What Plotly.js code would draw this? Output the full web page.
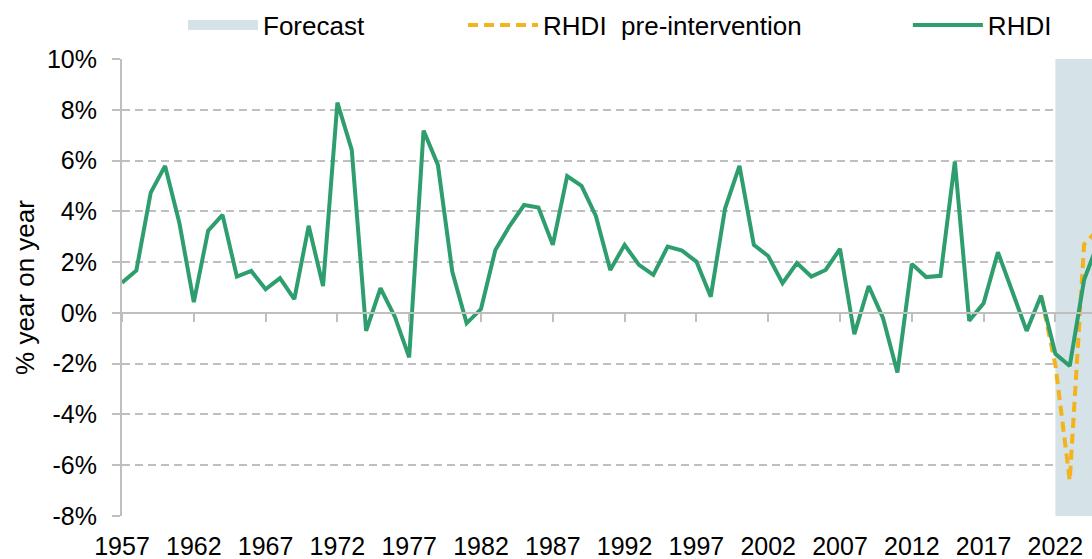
<!DOCTYPE html>
<html>
<head>
<meta charset="utf-8">
<script src="https://cdn.plot.ly/plotly-3.0.1.min.js"></script>
<style>html,body{margin:0;padding:0;background:#fff;}#chart{width:1092px;height:559px;}</style>
</head>
<body>
<div id="chart"></div>
<script>
const years = [1957,1958,1959,1960,1961,1962,1963,1964,1965,1966,
  1967,1968,1969,1970,1971,1972,1973,1974,1975,1976,
  1977,1978,1979,1980,1981,1982,1983,1984,1985,1986,
  1987,1988,1989,1990,1991,1992,1993,1994,1995,1996,
  1997,1998,1999,2000,2001,2002,2003,2004,2005,2006,
  2007,2008,2009,2010,2011,2012,2013,2014,2015,2016,
  2017,2018,2019,2020,2021,2022,2023,2024,2025];
const rhdi = [1.19,1.67,4.74,5.79,3.53,0.42,3.24,3.86,1.43,1.65,
  0.93,1.37,0.54,3.43,1.06,8.28,6.42,-0.71,0.97,-0.15,
  -1.75,7.18,5.83,1.63,-0.41,0.15,2.48,3.43,4.25,4.15,
  2.68,5.39,5.00,3.82,1.69,2.68,1.89,1.50,2.61,2.45,
  2.02,0.64,4.12,5.79,2.68,2.24,1.17,1.96,1.43,1.69,
  2.52,-0.84,1.06,-0.21,-2.35,1.93,1.41,1.46,5.96,-0.31,
  0.38,2.39,0.84,-0.71,0.68,-1.61,-2.09,1.30,2.80];
const preYears = [2021,2022,2023,2024,2025];
const preIntervention = [0.68,-2.05,-6.60,2.70,3.30];
const forecastSpan = [2022, 2026];
const forecastBounds = [-8, 10];
const yTickVals = [-8,-6,-4,-2,0,2,4,6,8,10];
const yTickText = ['-8%','-6%','-4%','-2%','0%','2%','4%','6%','8%','10%'];
const xTickVals = [1957,1962,1967,1972,1977,1982,1987,1992,1997,2002,2007,2012,2017,2022];
const xTickText = ['1957','1962','1967','1972','1977','1982','1987','1992','1997','2002','2007','2012','2017','2022'];

const FONT = 'Liberation Sans, Arial, sans-serif';
const xRange = [1957, 2024.55];
const grey = '#BFBFBF';
const shade = '#D5E2E7';
const pad = n => '\u00A0'.repeat(n);

const traces = [
  {
    name: 'Forecast', showlegend: false,
    x: [forecastSpan[0], forecastSpan[0], forecastSpan[1], forecastSpan[1]],
    y: [forecastBounds[0], forecastBounds[1], forecastBounds[1], forecastBounds[0]],
    type: 'scatter', mode: 'none', fill: 'toself',
    fillcolor: shade, hoverinfo: 'skip', xaxis: 'x', yaxis: 'y'
  },
  {
    name: 'Forecast' + pad(13),
    x: [null], y: [null],
    type: 'scatter', mode: 'lines',
    line: {color: shade, width: 14},
    hoverinfo: 'skip', xaxis: 'x', yaxis: 'y'
  },
  {
    name: 'RHDI\u00A0 pre-intervention' + pad(14),
    x: preYears, y: preIntervention,
    type: 'scatter', mode: 'lines',
    line: {color: '#F4B21B', width: 4, dash: '10px,6px'},
    hoverinfo: 'skip', xaxis: 'x2', yaxis: 'y'
  },
  {
    name: 'RHDI',
    x: years, y: rhdi,
    type: 'scatter', mode: 'lines',
    line: {color: '#2F9E6F', width: 4},
    hoverinfo: 'skip', xaxis: 'x2', yaxis: 'y'
  }
];

const layout = {
  width: 1092, height: 559,
  margin: {l: 122, r: 0, t: 59, b: 43, pad: 0},
  paper_bgcolor: '#fff', plot_bgcolor: '#fff',
  font: {family: FONT, size: 25, color: '#000'},
  showlegend: true,
  legend: {
    orientation: 'h', xref: 'container', yref: 'container',
    x: 183/1092, xanchor: 'left', y: 1 - 25/559, yanchor: 'middle',
    font: {family: FONT, size: 26, color: '#000'},
    itemwidth: 70, traceorder: 'normal', bgcolor: 'rgba(0,0,0,0)'
  },
  xaxis: {
    range: xRange, tickmode: 'array', tickvals: xTickVals, ticktext: xTickText,
    showgrid: false, zeroline: false, showline: false, ticks: '',
    ticklabelstandoff: 13, tickfont: {family: FONT, size: 25, color: '#000'},
    fixedrange: true
  },
  xaxis2: {
    range: xRange, overlaying: 'x', anchor: 'free', position: 8/18,
    tickmode: 'array', tickvals: xTickVals, showticklabels: false,
    showgrid: false, zeroline: false, showline: true, linecolor: grey, linewidth: 2,
    ticks: 'outside', ticklen: 8, tickcolor: grey, tickwidth: 2, fixedrange: true
  },
  yaxis: {
    range: [-8, 10], tickmode: 'array', tickvals: yTickVals, ticktext: yTickText,
    showgrid: true, gridcolor: grey, gridwidth: 2, griddash: '8px,5px',
    zeroline: true, zerolinecolor: grey, zerolinewidth: 2,
    showline: true, linecolor: grey, linewidth: 2,
    ticks: 'outside', ticklen: 8, tickcolor: grey, tickwidth: 2,
    ticklabelstandoff: 10, tickfont: {family: FONT, size: 25, color: '#000'},
    title: {text: '% year on year', font: {family: FONT, size: 26, color: '#000'}, standoff: 5},
    fixedrange: true
  }
};

Plotly.newPlot('chart', traces, layout, {displayModeBar: false, staticPlot: true});
</script>
</body>
</html>
